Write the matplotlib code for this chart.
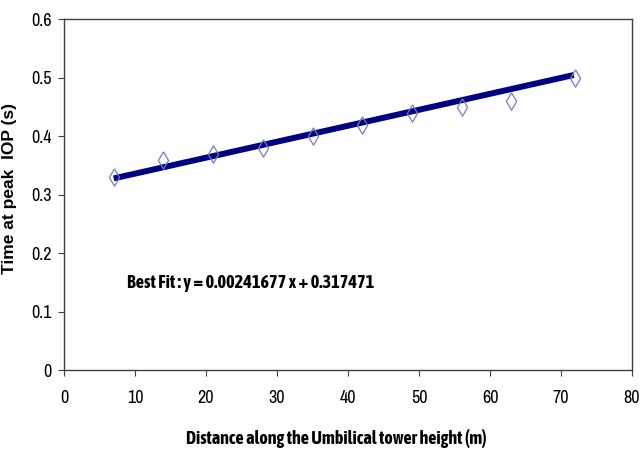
import matplotlib
matplotlib.use("Agg")
import matplotlib.pyplot as plt
from matplotlib import font_manager
from matplotlib.markers import MarkerStyle

# Data
distance_m = [7, 14, 21, 28, 35, 42, 49, 56, 63, 72]
time_peak_s = [0.33, 0.36, 0.37, 0.38, 0.40, 0.42, 0.44, 0.45, 0.46, 0.50]
fit_line_x = [7, 71.8]
fit_line_y = [0.328, 0.505]
fit_label = "Best Fit : y = 0.00241677 x + 0.317471"
x_ticks = [0, 10, 20, 30, 40, 50, 60, 70, 80]
y_ticks = [0, 0.1, 0.2, 0.3, 0.4, 0.5, 0.6]
y_tick_labels = ["0", "0.1", "0.2", "0.3", "0.4", "0.5", "0.6"]

names = {f.name for f in font_manager.fontManager.ttflist}
narrow = "Archivo Narrow" if "Archivo Narrow" in names else "DejaVu Sans"
narrow_bold = "Asap Condensed" if "Asap Condensed" in names else "DejaVu Sans"
wide = "Liberation Sans" if "Liberation Sans" in names else "DejaVu Sans"

fig = plt.figure(figsize=(6.4, 4.53), dpi=100)
ax = fig.add_axes([0.1, 0.183, 0.8875, 0.774])

ax.plot(fit_line_x, fit_line_y, color="#000080", lw=4.3,
        solid_capstyle="butt", zorder=2)
diamond = MarkerStyle([(0, 1.7), (1, 0), (0, -1.7), (-1, 0), (0, 1.7)])
ax.plot(distance_m, time_peak_s, linestyle="none", marker=diamond,
        markersize=12.5, markerfacecolor="none", markeredgecolor="#7878C8",
        markeredgewidth=0.9, zorder=3)

ax.text(8.9, 0.149, fit_label, fontsize=13.2, fontweight="bold",
        family=narrow_bold, va="center", ha="left")

ax.set_xlim(0, 80)
ax.set_ylim(0, 0.6)
ax.set_xticks(x_ticks)
ax.set_yticks(y_ticks)
ax.set_xticklabels([str(v) for v in x_ticks], family=narrow, fontsize=13)
ax.set_yticklabels(y_tick_labels, family=narrow, fontsize=13)
ax.tick_params(direction="out", length=4, width=0.8, color="#404040")
ax.tick_params(axis="y", pad=5)
ax.tick_params(axis="x", pad=10)
for s in ax.spines.values():
    s.set_color("#404040")
    s.set_linewidth(1.0)

ax.set_xlabel("Distance along the Umbilical tower height (m)", family=narrow_bold,
              fontsize=13, fontweight="bold")
ax.xaxis.set_label_coords(0.479, -0.168)
ax.set_ylabel("Time at peak  IOP (s)", family=wide, fontsize=12.5,
              fontweight="bold")
ax.yaxis.set_label_coords(-0.082, 0.519)

fig.savefig("out.png", dpi=100)
